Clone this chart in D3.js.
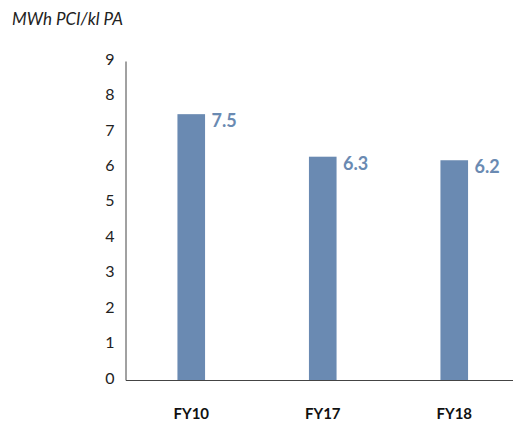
<!DOCTYPE html>
<html>
<head>
<meta charset="utf-8">
<script src="https://cdn.jsdelivr.net/npm/d3@7"></script>
<style>
  html, body { margin: 0; padding: 0; background: #fff; }
  svg { display: block; }
</style>
</head>
<body>
<svg id="chart" width="513" height="421"></svg>
<script>
// Energy intensity by fiscal year
const categories = ["FY10", "FY17", "FY18"];
const values = [7.5, 6.3, 6.2];
const yTicks = [0, 1, 2, 3, 4, 5, 6, 7, 8, 9];
const unitLabel = "MWh PCI/kl PA";

const svg = d3.select("#chart");
const font = "Lato, 'Open Sans', 'Liberation Sans', sans-serif";
const barColor = "#6a8ab2";

const plot = { left: 125.5, right: 520, top: 61, bottom: 380 };

const x = d3.scaleBand().domain(categories).range([plot.left, plot.right]).paddingInner(0.79).paddingOuter(0.395);
const y = d3.scaleLinear().domain([0, 9]).range([plot.bottom, plot.top]);

// unit title
svg.append("text")
  .attr("x", 12).attr("y", 25)
  .attr("font-family", font).attr("font-style", "italic")
  .attr("font-size", 17).attr("fill", "#222")
  .text(unitLabel);

// bars
svg.selectAll("rect.bar").data(values).join("rect")
  .attr("class", "bar")
  .attr("x", (d, i) => x(categories[i]))
  .attr("width", x.bandwidth())
  .attr("y", d => y(d))
  .attr("height", d => y(0) - y(d))
  .attr("fill", barColor);

// value labels
svg.selectAll("text.val").data(values).join("text")
  .attr("class", "val")
  .attr("x", (d, i) => x(categories[i]) + x.bandwidth() + 6.5)
  .attr("y", d => y(d) + 13)
  .attr("font-family", font).attr("font-weight", "bold")
  .attr("font-size", 18).attr("fill", barColor)
  .text(d => d.toFixed(1));

// y axis
const yAxis = d3.axisLeft(y).tickValues(yTicks).tickSize(0).tickPadding(11).tickFormat(d3.format("d"));
const gy = svg.append("g").attr("transform", `translate(${plot.left},0)`).call(yAxis);
gy.select(".domain").attr("stroke", "#444").attr("stroke-width", 1);
gy.selectAll("text").attr("font-family", font).attr("font-size", 16).attr("fill", "#222")
  .attr("dy", "0.2em");

// x axis
const xAxis = d3.axisBottom(x).tickSize(0).tickPadding(28);
const gx = svg.append("g").attr("transform", `translate(0,${plot.bottom})`).call(xAxis);
gx.select(".domain").attr("stroke", "#444").attr("stroke-width", 1);
gx.selectAll("text").attr("font-family", font).attr("font-weight", "bold")
  .attr("font-size", 15).attr("fill", "#111");
</script>
</body>
</html>
